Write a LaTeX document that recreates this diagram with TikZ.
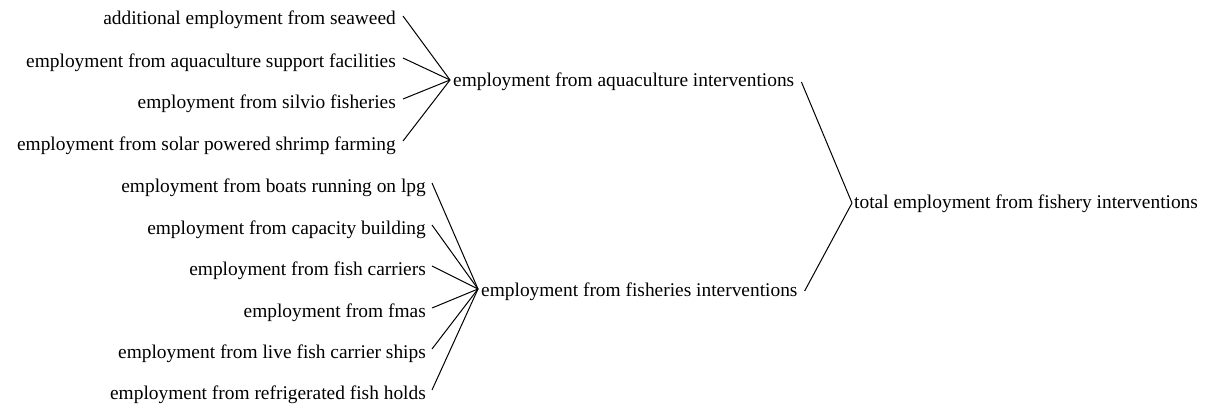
\documentclass[tikz,border=0pt]{standalone}
\usepackage{fontspec}
\setmainfont{Liberation Serif}
\usetikzlibrary{calc}
\begin{document}
\begin{tikzpicture}[x=1pt,y=-1pt,
  lbl/.style={inner sep=0pt, font=\fontsize{19.4}{21}\selectfont},
  conn/.style={draw=black, line width=1pt}]
\useasboundingbox (0,0) rectangle (1208,404);
% group 1
\node[lbl, anchor=base east] (a1) at (396,25) {additional employment from seaweed};
\node[lbl, anchor=base east] (a2) at (396,67) {employment from aquaculture support facilities};
\node[lbl, anchor=base east] (a3) at (396,108) {employment from silvio fisheries};
\node[lbl, anchor=base east] (a4) at (396,150) {employment from solar powered shrimp farming};
% group 2
\node[lbl, anchor=base east] (b1) at (426,192) {employment from boats running on lpg};
\node[lbl, anchor=base east] (b2) at (426,234) {employment from capacity building};
\node[lbl, anchor=base east] (b3) at (426,275) {employment from fish carriers};
\node[lbl, anchor=base east] (b4) at (426,317) {employment from fmas};
\node[lbl, anchor=base east] (b5) at (426,358) {employment from live fish carrier ships};
\node[lbl, anchor=base east] (b6) at (426,399) {employment from refrigerated fish holds};
% middle
\node[lbl, anchor=base west] (aq) at (453,87) {employment from aquaculture interventions};
\node[lbl, anchor=base west] (fi) at (481,296) {employment from fisheries interventions};
% right
\node[lbl, anchor=base west] (tot) at (854,208) {total employment from fishery interventions};
% connectors
\foreach \n in {a1,a2,a3,a4}
  \draw[conn] ($(\n.base east)+(7,-9)$) -- ($(aq.base west)+(-3,-7)$);
\foreach \n in {b1,b2,b3,b4,b5,b6}
  \draw[conn] ($(\n.base east)+(6,-9)$) -- ($(fi.base west)+(-3,-7)$);
\draw[conn] ($(aq.base east)+(7,-5)$) -- ($(tot.base west)+(-2,-5)$);
\draw[conn] ($(fi.base east)+(7,-5)$) -- ($(tot.base west)+(-2,-5)$);
\end{tikzpicture}
\end{document}
